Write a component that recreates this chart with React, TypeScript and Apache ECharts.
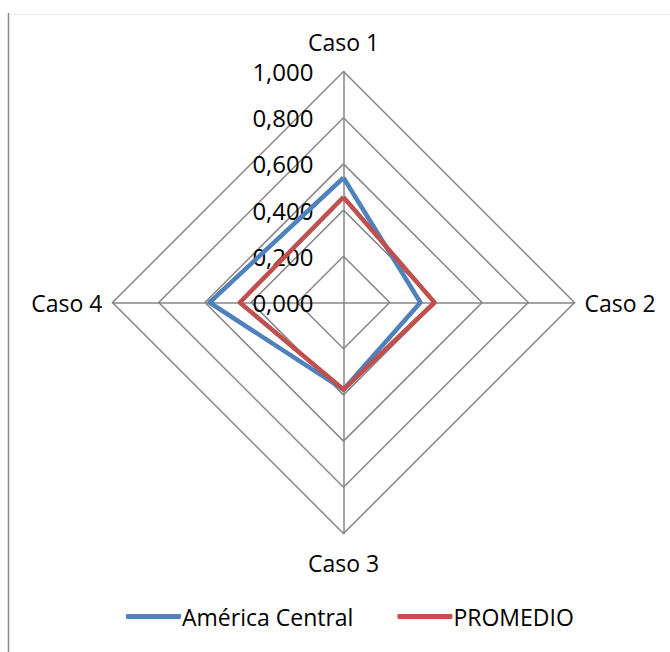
import React, { useEffect, useRef } from "react";
import * as echarts from "echarts";

const indicators: string[] = ["Caso 1", "Caso 2", "Caso 3", "Caso 4"];
const seriesNames: string[] = ["América Central", "PROMEDIO"];
const americaCentral: number[] = [0.54, 0.333, 0.377, 0.58];
const promedio: number[] = [0.456, 0.394, 0.377, 0.449];
const axisMin = 0;
const axisMax = 1;
const splitCount = 5;

// ECharts draws radar axes counter-clockwise; Excel draws them clockwise.
const order: number[] = [0, 3, 2, 1];
const reorder = (arr: number[]) => order.map((i) => arr[i]);

const FONT = "'Open Sans', 'Noto Sans', sans-serif";

export default function App() {
  const ref = useRef<HTMLDivElement>(null);
  useEffect(() => {
    if (!ref.current) return;
    const chart = echarts.init(ref.current, null, { renderer: "svg" });
    chart.setOption({
      animation: false,
      backgroundColor: "#ffffff",
      textStyle: { fontFamily: FONT },
      legend: {
        data: seriesNames,
        left: 121,
        top: 600,
        itemWidth: 55,
        itemHeight: 5,
        itemGap: 44,
        icon: "roundRect",
        textStyle: { fontFamily: FONT, fontSize: 23, color: "#000", padding: [0, 0, 0, -4] },
      },
      radar: {
        center: [343.5, 302.5],
        radius: 231,
        startAngle: 90,
        shape: "polygon",
        splitNumber: splitCount,
        indicator: order.map((idx, i) => ({
          name: indicators[idx],
          min: axisMin,
          max: axisMax,
          axisLabel:
            i === 0
              ? {
                  show: true,
                  fontFamily: FONT,
                  fontSize: 24,
                  color: "#000",
                  margin: 30,
                  formatter: (v: number) => v.toFixed(3).replace(".", ","),
                }
              : { show: false },
        })),
        axisName: { color: "#000", fontFamily: FONT, fontSize: 23, padding: [8, 0, 8, 0] },
        nameGap: 10,
        axisLine: { lineStyle: { color: "#868686", width: 1.5 } },
        splitLine: { lineStyle: { color: "#868686", width: 1.5 } },
        splitArea: { show: false },
        axisTick: { show: false },
        axisLabel: { show: false },
      },
      series: [
        {
          type: "radar",
          symbol: "none",
          data: [
            {
              name: seriesNames[0],
              value: reorder(americaCentral),
              lineStyle: { color: "#4F81BD", width: 4.5 },
              itemStyle: { color: "#4F81BD" },
            },
            {
              name: seriesNames[1],
              value: reorder(promedio),
              lineStyle: { color: "#C0504D", width: 4.5 },
              itemStyle: { color: "#C0504D" },
            },
          ],
        },
      ],
      graphic: [
        {
          type: "line",
          shape: { x1: 8.5, y1: 13, x2: 8.5, y2: 652 },
          style: { stroke: "#898989", lineWidth: 1.5 },
        },
        {
          type: "line",
          shape: { x1: 9, y1: 14.5, x2: 670, y2: 14.5 },
          style: { stroke: "#eeeeee", lineWidth: 1 },
        },
      ],
    });
    return () => chart.dispose();
  }, []);
  return (
    <div
      ref={ref}
      style={{ position: "absolute", left: 0, top: 0, width: 670, height: 652 }}
    />
  );
}
